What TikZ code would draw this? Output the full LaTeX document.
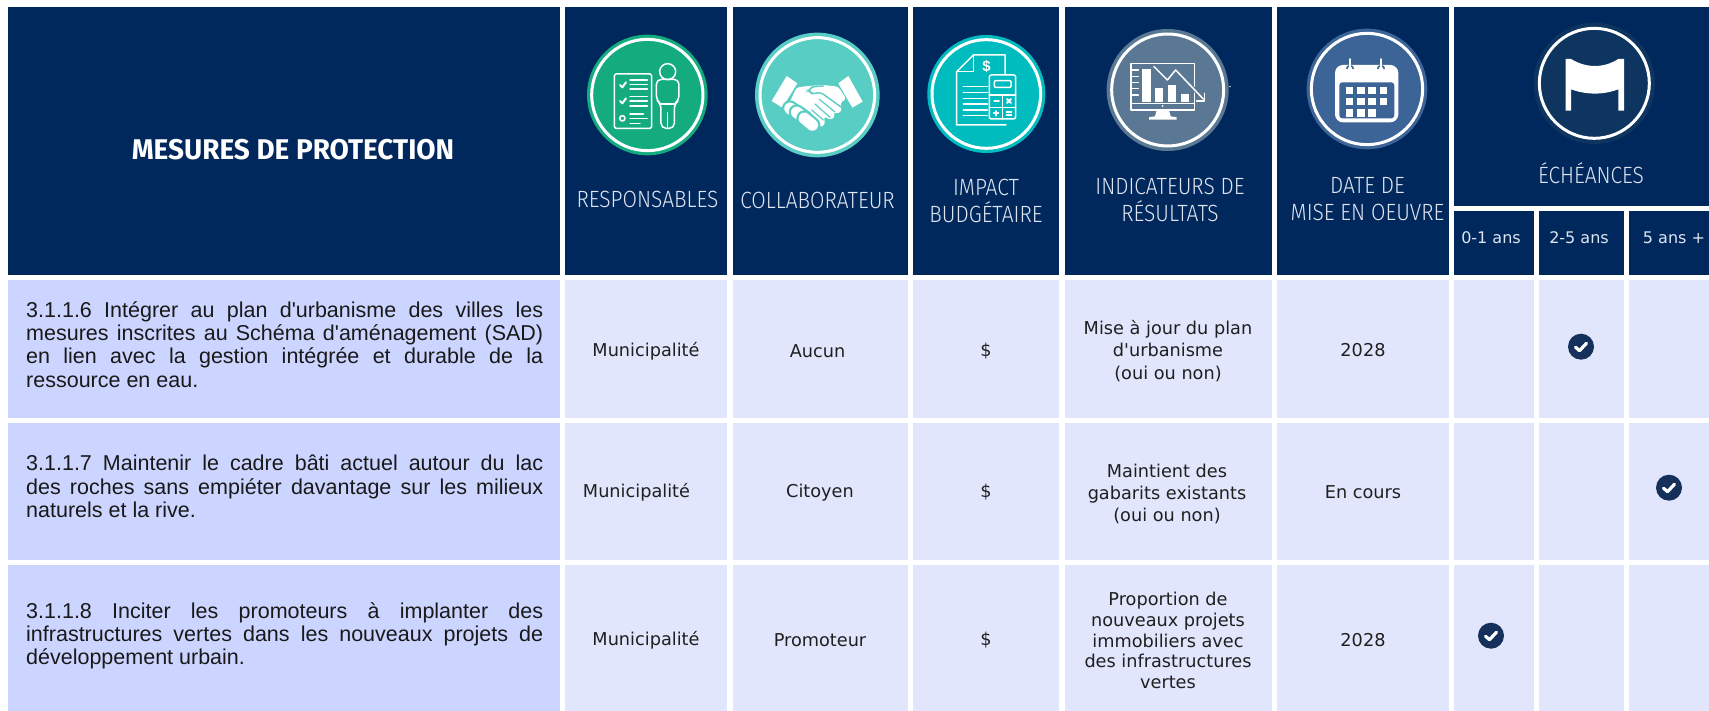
\documentclass[tikz,border=0pt]{standalone}
\usepackage{fontspec}
\setmainfont[Ligatures=TeXOff]{Liberation Sans}
\newfontfamily\bodyf[Ligatures=TeXOff]{DejaVu Sans}
\newfontfamily\headf[FakeStretch=0.89]{Fira Sans Light}
\newfontfamily\titlef[FakeStretch=0.98]{Fira Sans}
\definecolor{navy}{HTML}{00285C}
\definecolor{lefthue}{HTML}{CCD5FF}
\definecolor{cellhue}{HTML}{E2E6FD}
\definecolor{tickhue}{HTML}{15315B}
\definecolor{headtext}{HTML}{DFE5F0}
\definecolor{c1}{HTML}{14AB7F}
\definecolor{c2}{HTML}{57CDC3}
\definecolor{c3}{HTML}{00BCBF}
\definecolor{c4}{HTML}{5A7894}
\definecolor{c5}{HTML}{3C6497}
\definecolor{c6}{HTML}{0E3460}
\newcommand{\cellbox}[5]{\fill[#5] (#1,#2) rectangle (#3,#4);}
\newcommand{\ringicon}[5]{\fill[#5] (#1,#2) circle[radius=#3]; \draw[white,line width=3pt] (#1,#2) circle[radius=#4];}
\newcommand{\tickmark}[3]{\node[tickdot] (#1) at (#2,#3) {}; \draw[white,line width=3.2pt,line cap=round,line join=round] ($(#1)+(-5.5,0.5)$) -- ($(#1)+(-1.5,4)$) -- ($(#1)+(5.5,-3.5)$);}
\usetikzlibrary{calc}
\tikzset{
  headtxt/.style={font=\headf\fontsize{23.5}{27}\selectfont,text=headtext,align=center,inner sep=0},
  subtxt/.style={font=\bodyf\fontsize{16}{18}\selectfont,text=headtext,inner sep=0},
  bodytxt/.style={font=\bodyf\fontsize{17.7}{22.4}\selectfont,text=black!88,align=center,inner sep=0},
  mesure/.style={font=\fontsize{21.5}{23.4}\selectfont,text=black!90,text width=517pt,align=justify,inner sep=0,anchor=north west},
  tickdot/.style={circle,fill=tickhue,minimum size=26pt,inner sep=0},
  iconline/.style={white,line width=1.5pt,line join=round,line cap=round},
  iconscope/.style={x=0.3333pt,y=-0.3333pt},
}
\begin{document}
\begin{tikzpicture}[x=1pt,y=-1pt]
\useasboundingbox (0,0) rectangle (1709,711);
\fill[white] (0,0) rectangle (1709,711);
% header cells
\foreach \a/\b in {7.5/560,565/727,733/908,913/1059,1064.5/1271.5,1277/1449}{\cellbox{\a}{7}{\b}{275}{navy}}
\cellbox{1454}{7}{1709}{206}{navy}
\foreach \a/\b in {1454/1534,1539/1624,1629/1709}{\cellbox{\a}{211}{\b}{275}{navy}}
% body cells
\foreach \t/\u in {280/418,423/560,565/711}{
  \cellbox{7.5}{\t}{560}{\u}{lefthue}
  \foreach \a/\b in {565/727,733/908,913/1059,1064.5/1271.5,1277/1449,1454/1534,1539/1624,1629/1709}{\cellbox{\a}{\t}{\b}{\u}{cellhue}}
}
% header labels
\node[font=\titlef\bfseries\fontsize{28.5}{30}\selectfont,text=white,inner sep=0] (title) at (293,150) {MESURES DE PROTECTION};
\node[headtxt] (h1) at (647.5,199.5) {RESPONSABLES};
\node[headtxt] (h2) at (817.5,200) {COLLABORATEUR};
\node[headtxt] (h3) at (986,200.5) {IMPACT\\BUDGÉTAIRE};
\node[headtxt] (h4) at (1170,199.5) {INDICATEURS DE\\RÉSULTATS};
\node[headtxt] (h5) at (1367.5,199.5) {DATE DE\\MISE EN OEUVRE};
\node[headtxt] (h6) at (1591,173.5) {ÉCHÉANCES};
\node[subtxt] (s1) at (1491,238) {0-1 ans};
\node[subtxt] (s2) at (1579,238) {2-5 ans};
\node[subtxt] (s3) at (1674,238) {5 ans +};
% mesures
\node[mesure] (m1) at (26,301) {3.1.1.6 Intégrer au plan d'urbanisme des villes les\linebreak mesures inscrites au Schéma d'aménagement (SAD)\linebreak en lien avec la gestion intégrée et durable de la\linebreak ressource en eau.};
\node[mesure] (m2) at (26,455) {3.1.1.7 Maintenir le cadre bâti actuel autour du lac\linebreak des roches sans empiéter davantage sur les milieux\linebreak naturels et la rive.};
\node[mesure] (m3) at (26,602) {3.1.1.8 Inciter les promoteurs à implanter des\linebreak infrastructures vertes dans les nouveaux projets de\linebreak développement urbain.};
% row 1
\node[bodytxt] (a1) at (646,351) {Municipalité};
\node[bodytxt] (b1) at (817.5,351) {Aucun};
\node[bodytxt] (c1n) at (986,351) {\$};
\node[bodytxt] (d1) at (1168,351) {Mise à jour du plan\\d'urbanisme\\(oui ou non)};
\node[bodytxt] (e1) at (1363,350.5) {2028};
% row 2
\node[bodytxt] (a2) at (636.5,492.5) {Municipalité};
\node[bodytxt] (b2) at (820,492.5) {Citoyen};
\node[bodytxt] (c2n) at (986,492.5) {\$};
\node[bodytxt] (d2) at (1167,494) {Maintient des\\gabarits existants\\(oui ou non)};
\node[bodytxt] (e2) at (1363,492.5) {En cours};
% row 3
\node[bodytxt] (a3) at (646,640) {Municipalité};
\node[bodytxt] (b3) at (820,640) {Promoteur};
\node[bodytxt] (c3n) at (986,640) {\$};
\node[bodytxt,font=\bodyf\fontsize{17.7}{20.8}\selectfont] (d3) at (1168,640.5) {Proportion de\\nouveaux projets\\immobiliers avec\\des infrastructures\\vertes};
\node[bodytxt] (e3) at (1363,640) {2028};
% ticks
\tickmark{t1}{1581}{346.7}
\tickmark{t2}{1669}{487.7}
\tickmark{t3}{1491}{635.7}
% icon 1
\begin{scope}[shift={(585,30)},iconscope]
\ringicon{187}{195}{181}{167}{c1}
\draw[iconline,rounded corners=1.5pt] (88,132) rectangle (200,295);
\draw[iconline,line width=2pt] (105,165) -- (112,172) -- (123,157);
\draw[iconline,line width=2pt] (105,213) -- (112,220) -- (123,205);
\draw[iconline] (112,265) circle[radius=8];
\foreach \yy in {150,163,177,200,213,228}{\draw[iconline] (135,\yy) -- (187,\yy);}
\draw[iconline] (135,252) -- (175,252); \draw[iconline] (135,266) -- (187,266); \draw[iconline] (135,280) -- (165,280);
\draw[iconline] (248,125) circle[radius=24];
\draw[iconline,rounded corners=5pt] (228,222) -- (214,210) -- (214,148) -- (282,148) -- (282,210) -- (268,222) -- (268,295) -- (228,295) -- cycle;
\draw[iconline] (228,222) -- (268,222);
\draw[iconline] (248,248) -- (248,295);
\end{scope}
% icon 2
\begin{scope}[shift={(755,30)},iconscope]
\ringicon{187}{195}{187}{172}{c2}
\fill[white] (95,138) -- (127,160) -- (82,233) -- (50,213) -- cycle;
\fill[white] (280,138) -- (323,215) -- (292,233) -- (250,160) -- cycle;
\fill[white,rounded corners=3pt] (125,172) -- (172,167) -- (205,165) -- (250,170) -- (274,208) -- (255,218) -- (262,238) -- (250,252) -- (235,246) -- (240,262) -- (225,270) -- (207,258) -- (210,285) -- (195,292) -- (175,270) -- (100,225) -- cycle;
\draw[c2,line width=1.4pt,line cap=round,rounded corners=3pt] (205,168) -- (172,170) -- (160,182) -- (172,192) -- (197,187) -- (262,234);
\draw[c2,line width=1.2pt,line cap=round] (193,208) -- (240,246);
\draw[c2,line width=1.2pt,line cap=round] (180,222) -- (225,262);
\draw[c2,line width=1.2pt,line cap=round] (170,240) -- (205,270);
\foreach \p/\q in {{(105,235)}/{(125,250)},{(125,247)}/{(150,265)},{(148,265)}/{(172,285)}}{
  \draw[c2,line width=16pt,line cap=round] \p -- \q;
  \draw[white,line width=11.5pt,line cap=round] \p -- \q;
}
\end{scope}
% icon 3
\begin{scope}[shift={(925,30)},iconscope]
\ringicon{184}{192}{177}{163}{c3}
\draw[iconline] (240,135) -- (240,75) -- (145,75) -- (95,125) -- (95,285) -- (243,285);
\draw[iconline] (145,75) -- (145,125) -- (95,125);
\node[font=\bfseries\fontsize{15}{15}\selectfont,text=white,inner sep=0] (dollar) at (185,110) {\$};
\foreach \yy in {170,187,205,222,240,257}{\draw[iconline] (115,\yy) -- (187,\yy);}
\draw[iconline,rounded corners=2pt] (193,135) rectangle (272,267);
\draw[iconline,rounded corners=1pt] (208,152) rectangle (258,172);
\draw[iconline] (193,195) -- (272,195);
\draw[iconline] (193,232) -- (272,232);
\draw[iconline] (233,195) -- (233,267);
\draw[iconline,line width=1.8pt] (208,213) -- (222,213);
\draw[iconline,line width=1.8pt] (246,207) -- (258,219) (258,207) -- (246,219);
\draw[iconline,line width=1.8pt] (206,250) -- (220,250) (213,243) -- (213,257);
\draw[iconline,line width=1.8pt] (245,245) -- (259,245) (245,255) -- (259,255);
\end{scope}
% icon 4
\begin{scope}[shift={(1105,25)},iconscope]
\ringicon{188}{195}{183}{168}{c4}
\draw[iconline] (78,115) rectangle (268,255);
\draw[iconline] (78,235) -- (268,235);
\fill[white] (112,132) rectangle (138,232);
\fill[white] (150,190) rectangle (175,232);
\fill[white] (190,180) rectangle (213,232);
\fill[white] (227,207) rectangle (252,232);
\foreach \yy in {135,155,172,190,210}{\draw[iconline] (82,\yy) -- (100,\yy);}
\fill[white] (155,256) -- (192,256) -- (197,274) -- (215,277) -- (215,284) -- (132,284) -- (132,277) -- (150,274) -- cycle;
\fill[white] (173,243) circle[radius=3];
\draw[c4,line width=4pt] (147,125) -- (187,165) -- (212,135) -- (295,222);
\draw[iconline] (147,125) -- (187,165) -- (212,135) -- (295,222);
\draw[iconline] (275,228) -- (298,228) -- (298,205);
\fill[white] (375,185) circle[radius=2.5];
\end{scope}
% icon 5
\begin{scope}[shift={(1305,25)},iconscope]
\ringicon{186}{192}{181}{167}{c5}
\fill[white,rounded corners=8pt] (90,120) rectangle (280,292);
\fill[c5,rounded corners=3pt] (103,172) rectangle (268,280);
\foreach \xx in {123,157,190,225}{\foreach \yy in {185,218}{\fill[white] (\xx,\yy) rectangle ++(22,22);}}
\foreach \xx in {123,157,190}{\fill[white] (\xx,253) rectangle ++(22,22);}
\draw[c5,line width=1.6pt] (125,132) arc[start angle=180,end angle=360,radius=10];
\draw[c5,line width=1.6pt] (218,132) arc[start angle=180,end angle=360,radius=10];
\draw[white,line width=1.8pt,line cap=round] (135,102) -- (135,140);
\draw[white,line width=1.8pt,line cap=round] (228,102) -- (228,140);
\end{scope}
% icon 6
\begin{scope}[shift={(1530,20)},iconscope]
\ringicon{193}{190}{182}{165}{c6}
\fill[white] (107,117) -- (123,117) .. controls (170,145) and (220,145) .. (265,117) -- (282,117) -- (282,272) -- (265,272) -- (265,208) .. controls (220,225) and (170,225) .. (123,208) -- (123,272) -- (107,272) -- cycle;
\end{scope}
\end{tikzpicture}
\end{document}
